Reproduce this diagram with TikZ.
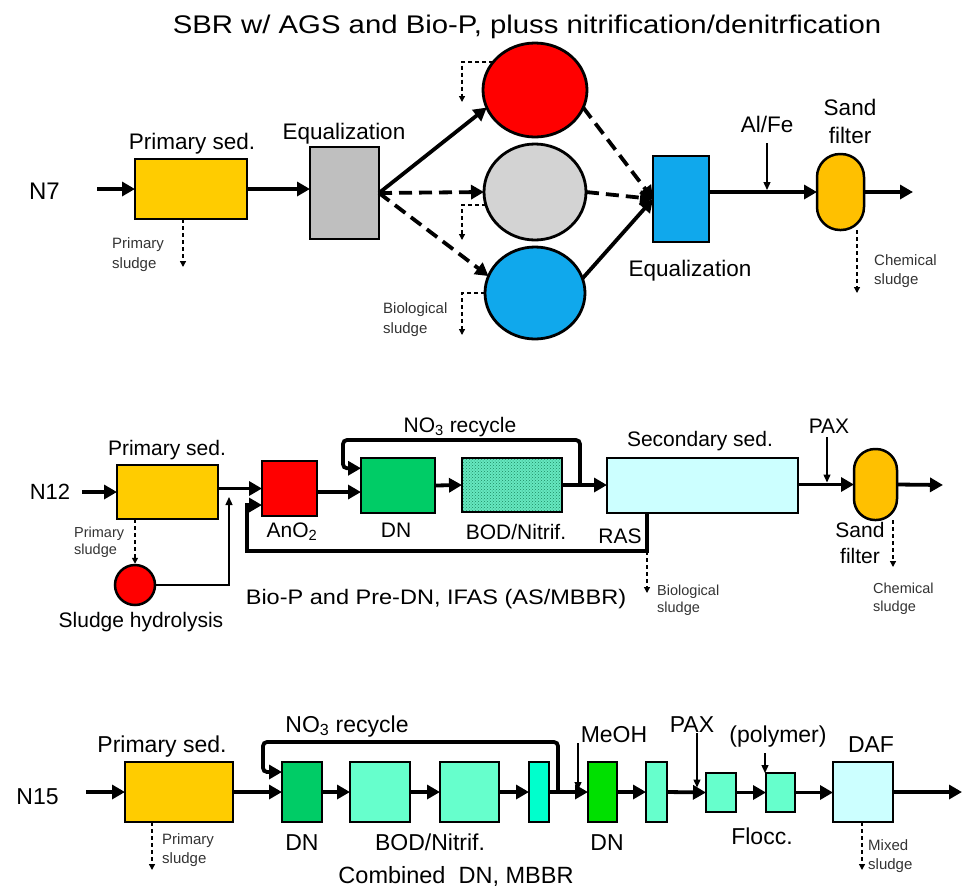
\documentclass[tikz,border=0pt]{standalone}
\usepackage{fontspec}
\setmainfont{Liberation Sans}
\usetikzlibrary{arrows.meta,shapes.geometric,patterns}
\definecolor{psyellow}{HTML}{FFCC00}
\definecolor{sfyellow}{HTML}{FFC000}
\definecolor{eqgray}{HTML}{BFBFBF}
\definecolor{cgray}{HTML}{D3D3D3}
\definecolor{cblue}{HTML}{10A8EC}
\definecolor{cred}{HTML}{FF0000}
\definecolor{dngreen}{HTML}{00CC66}
\definecolor{bodbase}{HTML}{66E8C0}
\definecolor{boddot}{HTML}{1E8A62}
\definecolor{sscyan}{HTML}{CCFFFF}
\definecolor{aqua}{HTML}{66FFCC}
\definecolor{aquab}{HTML}{00FFCC}
\definecolor{dnbright}{HTML}{00E000}
\definecolor{smallgray}{HTML}{333333}
\begin{document}
\begin{tikzpicture}[x=1pt,y=-1pt,
  bx/.style 2 args={draw, line width=2.5pt, inner sep=0pt, outer sep=0pt, minimum width=#1pt, minimum height=#2pt},
  circ/.style 2 args={ellipse, draw, line width=2.8pt, inner sep=0pt, outer sep=0pt, minimum width=#1pt, minimum height=#2pt},
  sandf/.style 2 args={draw, line width=2.5pt, inner sep=0pt, outer sep=0pt, minimum width=#1pt, minimum height=#2pt, rounded corners=#1/2*1pt-0.5pt, fill=sfyellow},
  ttl/.style={font=\fontsize{25.5}{30}\selectfont, inner sep=0pt, anchor=base},
  lt/.style={font=\fontsize{22.5}{27}\selectfont, inner sep=0pt, anchor=base},
  lm/.style={font=\fontsize{21}{25}\selectfont, inner sep=0pt, anchor=base},
  lb/.style={font=\fontsize{23}{27}\selectfont, inner sep=0pt, anchor=base},
  sm/.style={font=\fontsize{15}{18}\selectfont, inner sep=0pt, anchor=base west, text=smallgray},
  smm/.style={font=\fontsize{14.5}{17}\selectfont, inner sep=0pt, anchor=base west, text=smallgray},
  main/.style={line width=3.8pt, -{Triangle[length=13pt,width=14pt]}},
  dmain/.style={main, dash pattern=on 13pt off 7pt},
  thinar/.style={line width=1.3pt, -{Triangle[length=8pt,width=7pt]}},
  sludge/.style={line width=1.3pt, dash pattern=on 4pt off 3pt, -{Triangle[length=6pt,width=6pt]}}
]
\path[use as bounding box] (0,0) rectangle (967,887);

% ================= TOP: N7 =================
\node[ttl] (title) at (527,33) {\scalebox{1.15}[1]{SBR w/ AGS and Bio-P, pluss nitrification/denitrfication}};
\node[lt, font=\fontsize{24}{28}\selectfont] (n7) at (44.5,199) {N7};
\coordinate (in7) at (97,189);
\node[bx={112}{60}, fill=psyellow] (ps7) at (191,189) {};
\node[lt] (ps7l) at (192,149) {Primary sed.};
\node[bx={69}{92}, fill=eqgray] (eq7a) at (344.5,193) {};
\node[lt] (eq7al) at (344,139) {Equalization};
\node[circ={104}{94}, fill=cred] (c1) at (535,90) {};
\node[circ={102}{96}, fill=cgray] (c2) at (535,192) {};
\node[circ={100}{92}, fill=cblue] (c3) at (535,293) {};
\node[bx={56}{86}, fill=cblue] (eq7b) at (681,199) {};
\node[lt] (eq7bl) at (690,276) {Equalization};
\node[sandf={47}{76}] (sf7) at (840.5,192) {};
\node[lt] (sf7l1) at (850,115) {Sand};
\node[lt] (sf7l2) at (850,143) {filter};
\node[lt] (alfe) at (767,132) {Al/Fe};
\coordinate (alfet) at (767,143);
\coordinate (out7) at (913,192);

\draw[main] (in7) -- (ps7.west);
\draw[main] (ps7.east) -- (ps7.east -| eq7a.west);
\draw[main] (eq7a.east) -- (c1.200);
\draw[dmain] (eq7a.east) -- (c2.west);
\draw[dmain] (eq7a.east) -- (c3.160);
\draw[dmain] (c1.-20) -- (eq7b.west);
\draw[dmain] (c2.east) -- (eq7b.west);
\draw[main] (c3.17) -- (eq7b.west);
\draw[main] (eq7b.east |- sf7.west) -- (sf7.west);
\draw[main] (sf7.east) -- (out7);
\draw[thinar, shorten >=2pt] (alfet) -- (alfet |- sf7.west);

% sludges
\coordinate (ps7s) at (183,267);
\draw[sludge] (ps7.south -| ps7s) -- (ps7s);
\node[sm] (ps7t1) at (112,248) {Primary};
\node[sm] (ps7t2) at (112,268) {sludge};
\coordinate (s1) at (462,102);
\coordinate (s2) at (462,240);
\coordinate (s3) at (462,335);
\draw[sludge] (c1.146) -| (s1);
\draw[sludge] (c2.195) -| (s2);
\draw[sludge] (c3.west) -| (s3);
\node[sm] (bs7t1) at (383,313) {Biological};
\node[sm] (bs7t2) at (383,333) {sludge};
\coordinate (cs7) at (857,293);
\draw[sludge] (sf7.south -| cs7) -- (cs7);
\node[sm] (cs7t1) at (874,265) {Chemical};
\node[sm] (cs7t2) at (874,284) {sludge};

% ================= MIDDLE: N12 =================
\node[lm, font=\fontsize{22}{26}\selectfont] (n12) at (50,499) {N12};
\coordinate (in12) at (82,492);
\node[bx={101}{54}, fill=psyellow] (ps12) at (167.5,492) {};
\node[lm] (ps12l) at (167,455) {Primary sed.};
\node[bx={55}{55}, fill=cred] (an) at (289.5,488.5) {};
\node[lm] (anl) at (292,537) {AnO\textsubscript{2}};
\node[bx={74}{55}, fill=dngreen] (dn12) at (398,485.5) {};
\node[lm] (dn12l) at (396,537) {DN};
\node[bx={100}{54}, preaction={fill=bodbase}, pattern=crosshatch dots, pattern color=boddot] (bod12) at (512,485) {};
\node[lm] (bod12l) at (516,539) {BOD/Nitrif.};
\node[bx={191}{55}, fill=sscyan] (ss) at (702.5,485.5) {};
\node[lm] (ssl) at (700,446) {Secondary sed.};
\node[lm] (rasl) at (620,543) {RAS};
\node[sandf={43}{71}] (sf12) at (875.5,484.5) {};
\node[lm] (sf12l1) at (860,537) {Sand};
\node[lm] (sf12l2) at (860,563) {filter};
\node[lm] (pax12) at (829,433) {PAX};
\coordinate (pax12t) at (827,437);
\node[lm] (no312) at (460,432) {NO\textsubscript{3} recycle};
\node[circle, draw, line width=2.5pt, fill=cred, minimum size=40pt, inner sep=0pt] (sh) at (135,585) {};
\node[lm] (shl) at (141,627) {Sludge hydrolysis};
\node[lm, font=\fontsize{21}{25}\selectfont] (biop) at (436,604) {\scalebox{1.12}[1]{Bio-P and Pre-DN, IFAS (AS/MBBR)}};
\coordinate (out12) at (943,485);

\draw[main] (in12) -- (ps12.west);
\draw[main] (an.west -| ps12.east) -- (an.west);
\draw[main] (an.east |- dn12.190) -- (dn12.190);
\draw[main] (dn12.east) -- (bod12.west);
\draw[main] (bod12.east) -- (bod12.east -| ss.west);
\draw[main] (ss.east |- sf12.west) -- (sf12.west);
\draw[main] (sf12.east) -- (out12);
\draw[thinar, shorten >=2pt] (pax12t) -- (pax12t |- sf12.west);
% NO3 recycle
\coordinate (rb12) at (580,485);
\coordinate (r12) at (343,440);
\draw[main, rounded corners=4pt] (rb12) |- (r12) |- (dn12.155);
% RAS
\coordinate (rasd) at (647,551);
\coordinate (rasb) at (247,551);
\draw[main] (ss.south -| rasd) -- (rasd) -- (rasb) |- (an.211);
% sludge hydrolysis
\draw[sludge] (ps12.south -| sh.north) -- (sh.north);
\coordinate (hyde) at (229,497);
\draw[thinar] (sh.east) -| (hyde);
\node[smm] (ps12t1) at (74,537) {Primary};
\node[smm] (ps12t2) at (74,554) {sludge};
% biological sludge
\coordinate (bs12) at (647,593);
\draw[sludge] (rasd) -- (bs12);
\node[smm] (bs12t1) at (657,595) {Biological};
\node[smm] (bs12t2) at (657,612) {sludge};
\coordinate (cs12) at (893,567);
\draw[sludge] (sf12.south -| cs12) -- (cs12);
\node[smm] (cs12t1) at (873,593) {Chemical};
\node[smm] (cs12t2) at (873,611) {sludge};

% ================= BOTTOM: N15 =================
\node[lb] (n15) at (37.5,804) {N15};
\coordinate (in15) at (86,792);
\node[bx={108}{60}, fill=psyellow] (ps15) at (179,792) {};
\node[lb] (ps15l) at (162,752) {Primary sed.};
\node[bx={40}{60}, fill=dngreen] (dn15) at (302,792) {};
\node[lb] (dn15l) at (302,850) {DN};
\node[bx={60}{60}, fill=aqua] (b2) at (380,792) {};
\node[bx={59}{60}, fill=aqua] (b3) at (469.5,792) {};
\node[lb] (bod15l) at (430,850) {BOD/Nitrif.};
\node[bx={20}{60}, fill=aquab] (b4) at (539,792) {};
\node[bx={29}{60}, fill=dnbright] (dn15b) at (602.5,792) {};
\node[lb] (dn15bl) at (607,850) {DN};
\node[bx={21}{60}, fill=aqua] (b6) at (656.5,792) {};
\node[bx={30}{39}, fill=aqua] (f1) at (721,792.5) {};
\node[bx={29}{39}, fill=aqua] (f2) at (780.5,792.5) {};
\node[lb] (floccl) at (762,844) {Flocc.};
\node[bx={60}{60}, fill=sscyan] (daf) at (863,792) {};
\node[lb] (dafl) at (871,752) {DAF};
\node[lb] (no315) at (347,732) {NO\textsubscript{3} recycle};
\node[lb] (meoh) at (614,742) {MeOH};
\node[lb] (pax15) at (692,732) {PAX};
\node[lb] (poly) at (778,742) {(polymer)};
\node[lb, font=\fontsize{23.5}{28}\selectfont] (comb) at (456,883) {Combined~~DN, MBBR};
\coordinate (out15) at (962,792);

\draw[main] (in15) -- (ps15.west);
\draw[main] (ps15.east) -- (dn15.west);
\draw[main] (dn15.east) -- (b2.west);
\draw[main] (b2.east) -- (b3.west);
\draw[main] (b3.east) -- (b4.west);
\draw[main] (b4.east) -- (dn15b.west);
\draw[main] (dn15b.east) -- (b6.west);
\draw[main] (b6.east) -- (f1.west);
\draw[main] (f1.east) -- (f2.west);
\draw[main] (f2.east) -- (f2.east -| daf.west);
\draw[main] (daf.east) -- (out15);
\coordinate (rb15) at (558,792);
\coordinate (r15) at (263,742);
\draw[main, rounded corners=4pt] (rb15) |- (r15) |- (dn15.135);
\coordinate (meoht) at (578,743);
\draw[thinar, shorten >=2pt] (meoht) -- (meoht |- dn15b.west);
\coordinate (pax15t) at (697,733);
\draw[thinar, shorten >=5pt] (pax15t) -- (pax15t |- f1.west);
\coordinate (polyt) at (765,753);
\draw[thinar] (polyt) -- (polyt |- f2.north);
\coordinate (ps15s) at (152,870);
\draw[sludge] (ps15.south -| ps15s) -- (ps15s);
\node[sm] (ps15t1) at (162,844) {Primary};
\node[sm] (ps15t2) at (162,863) {sludge};
\coordinate (ms15) at (862,870);
\draw[sludge] (daf.south -| ms15) -- (ms15);
\node[sm] (ms15t1) at (868,850) {Mixed};
\node[sm] (ms15t2) at (868,869) {sludge};
\end{tikzpicture}
\end{document}
